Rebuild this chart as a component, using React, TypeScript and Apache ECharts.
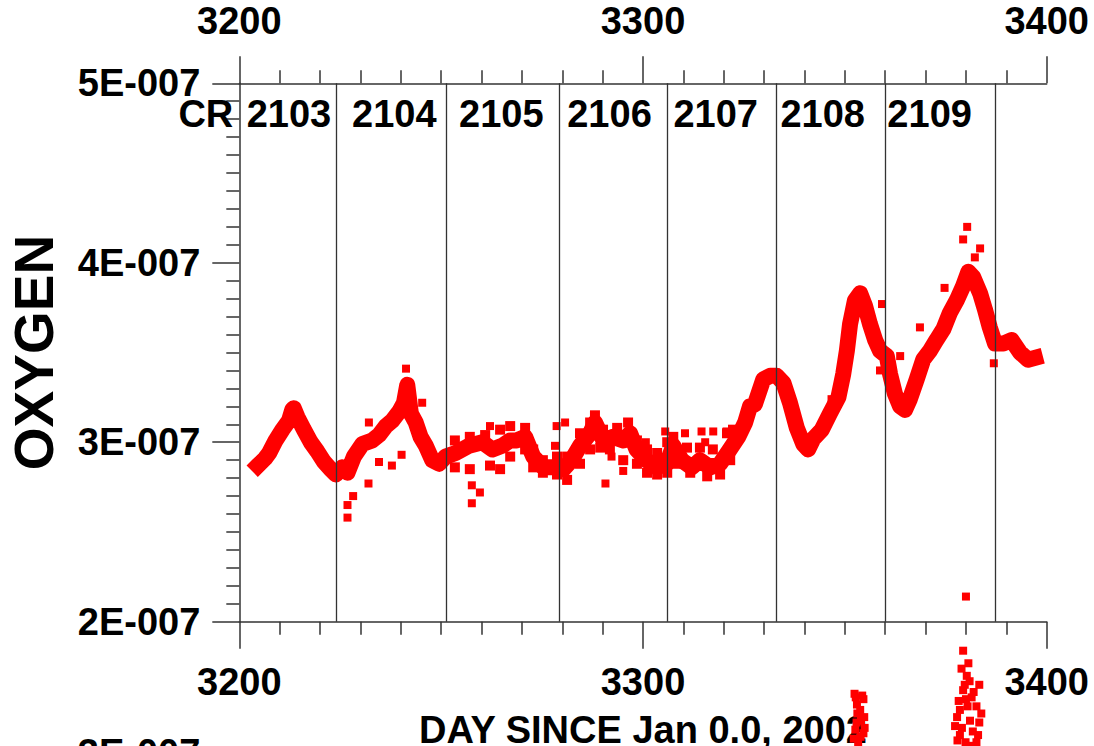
import React, { useEffect, useRef } from "react";
import * as echarts from "echarts";

// ---- data (oxygen in units of 1E-007, time in days since Jan 0.0, 2002) ----

const DAY_MIN = 3200;
const DAY_MAX = 3400;
const DAY_STEP = 100;
const OXY_MIN = 2;
const OXY_MAX = 5;
const OXY_STEP = 1;

// main oxygen trace
const TRACE: [number, number][] = [
  [3204.6, 2.87], [3206.4, 2.91], [3207.4, 2.94], [3209.0, 3.01], [3210.7, 3.07],
  [3212.3, 3.12], [3213.1, 3.18], [3213.5, 3.19], [3214.4, 3.14], [3216.0, 3.07],
  [3217.7, 3.0], [3219.3, 2.95], [3221.0, 2.89], [3222.6, 2.85], [3223.9, 2.82],
  [3225.5, 2.86], [3226.8, 2.83], [3228.4, 2.92], [3230.5, 2.99], [3232.9, 3.01],
  [3234.6, 3.04], [3236.3, 3.09], [3237.9, 3.12], [3239.6, 3.17], [3240.8, 3.22],
  [3241.6, 3.32], [3242.5, 3.16], [3243.7, 3.11], [3244.9, 3.03], [3246.2, 2.98],
  [3247.8, 2.9], [3249.5, 2.88], [3251.1, 2.92], [3253.6, 2.94], [3256.9, 2.98],
  [3260.2, 3.0], [3262.7, 2.96], [3265.1, 2.98], [3267.1, 3.01], [3268.7, 3.01],
  [3270.8, 3.03], [3272.8, 2.92], [3275.3, 2.86], [3277.8, 2.86], [3280.3, 2.85],
  [3282.3, 2.9], [3284.4, 2.98], [3286.9, 3.05], [3288.1, 3.11], [3290.2, 3.01],
  [3292.6, 3.03], [3295.1, 3.01], [3296.8, 3.05], [3298.4, 2.96], [3300.9, 2.9],
  [3303.4, 2.86], [3305.9, 2.88], [3307.5, 2.98], [3309.6, 2.9], [3312.1, 2.86],
  [3314.1, 2.9], [3316.6, 2.86], [3319.1, 2.88], [3321.5, 2.96], [3323.6, 3.03],
  [3325.3, 3.11], [3326.5, 3.2], [3327.7, 3.21], [3329.8, 3.35], [3331.5, 3.37],
  [3333.1, 3.37], [3334.8, 3.33], [3336.4, 3.22], [3338.1, 3.08], [3339.7, 2.99],
  [3340.9, 2.96], [3342.2, 3.02], [3344.3, 3.07], [3346.3, 3.16], [3348.4, 3.25],
  [3349.6, 3.38], [3350.5, 3.51], [3351.3, 3.66], [3352.5, 3.79], [3353.8, 3.83],
  [3355.0, 3.76], [3356.2, 3.66], [3357.5, 3.57], [3358.7, 3.51], [3360.4, 3.48],
  [3361.2, 3.38], [3362.4, 3.27], [3363.7, 3.2], [3364.9, 3.18], [3366.1, 3.24],
  [3367.8, 3.35], [3369.4, 3.46], [3371.1, 3.51], [3372.7, 3.57], [3374.4, 3.63],
  [3376.0, 3.72], [3377.7, 3.79], [3379.3, 3.87], [3380.6, 3.95], [3381.8, 3.92],
  [3383.5, 3.83], [3384.7, 3.74], [3385.9, 3.64], [3387.2, 3.55], [3389.3, 3.55],
  [3391.3, 3.57], [3393.4, 3.5], [3395.4, 3.46], [3397.1, 3.47],
];

// upper and lower edges of the noisy stretch between rotations 2105 and 2107
const SPREAD_UPPER: [number, number][] = [
  [3253.4, 3.01], [3257.1, 3.03], [3260.9, 3.04], [3264.6, 3.07], [3267.1, 3.09],
  [3270.8, 3.08], [3272.8, 2.96], [3275.2, 2.9], [3278.7, 2.92], [3281.2, 2.92],
  [3284.4, 3.05], [3286.9, 3.11], [3288.1, 3.15], [3290.1, 3.07], [3293.6, 3.08],
  [3296.3, 3.11], [3298.5, 3.01], [3301.0, 2.96], [3303.5, 2.94], [3306.0, 3.0],
  [3307.5, 3.03], [3310.9, 2.97], [3314.1, 2.97], [3317.3, 2.96], [3320.8, 3.05],
  [3322.3, 3.07],
];
const SPREAD_LOWER: [number, number][] = [
  [3253.4, 2.86], [3257.1, 2.85], [3262.1, 2.87], [3264.6, 2.85], [3267.1, 2.92],
  [3270.8, 2.96], [3272.8, 2.86], [3275.2, 2.83], [3278.7, 2.82], [3281.2, 2.79],
  [3284.4, 2.88], [3286.9, 2.96], [3289.4, 2.97], [3291.8, 2.96], [3295.1, 2.9],
  [3298.5, 2.88], [3301.0, 2.83], [3303.5, 2.82], [3306.0, 2.83], [3308.5, 2.88],
  [3311.7, 2.83], [3315.9, 2.81], [3319.1, 2.82], [3321.6, 2.9],
];

// isolated samples away from the main trace
const OUTLIERS: [number, number][] = [
  [3226.8, 2.65], [3226.8, 2.58], [3228.2, 2.7], [3232.0, 2.77], [3232.1, 3.11],
  [3234.6, 2.89], [3237.8, 2.87], [3240.2, 2.93], [3241.3, 3.41], [3245.3, 3.22],
  [3257.6, 2.76], [3259.6, 2.72], [3257.6, 2.66], [3262.1, 3.09], [3278.6, 3.09],
  [3280.7, 3.11], [3278.2, 2.98], [3290.7, 2.77], [3295.1, 2.84], [3292.2, 2.92],
  [3300.7, 3.0], [3305.5, 3.06], [3310.4, 3.05], [3314.5, 3.06], [3317.4, 3.06],
  [3320.7, 3.06], [3315.4, 3.0], [3346.7, 3.24], [3359.2, 3.77], [3358.7, 3.4],
  [3363.7, 3.48], [3368.6, 3.64], [3374.7, 3.86], [3380.3, 4.2], [3379.3, 4.13],
  [3383.5, 4.08], [3382.2, 4.03], [3386.9, 3.44], [3380.0, 2.14],
];

// Carrington rotations
const CR_NUMBERS = ["2103", "2104", "2105", "2106", "2107", "2108", "2109"];
const CR_LABEL_DAYS = [3212.3, 3238.4, 3264.9, 3291.7, 3318.0, 3344.5, 3371.0];
const CR_BOUNDARIES = [3224.0, 3251.2, 3279.2, 3306.0, 3333.1, 3360.1, 3387.2];
const CR_LABEL_LEVEL = 4.83;

// next panel down (only its top edge is in view)
const LOWER_MIN = 0;
const LOWER_MAX = 3.6;
const LOWER_TICK = 3;
const LOWER_SPIKES: [number, number][] = [
  [3352.7, 3.31], [3354.6, 3.3], [3353.8, 3.24], [3352.9, 3.17], [3354.6, 3.11],
  [3353.3, 3.05], [3354.0, 3.18], [3353.0, 3.27], [3352.4, 3.33], [3354.3, 3.32],
  [3353.1, 3.22], [3354.8, 3.2], [3352.6, 3.13], [3353.9, 3.09], [3354.9, 3.14],
  [3352.2, 3.08],
  [3379.3, 3.57], [3380.6, 3.5], [3380.2, 3.43], [3383.3, 3.38], [3379.3, 3.35],
  [3381.4, 3.31], [3378.5, 3.24], [3382.6, 3.26], [3377.3, 3.15], [3383.3, 3.17],
  [3378.5, 3.1], [3382.6, 3.06], [3380.0, 3.3], [3381.0, 3.18], [3379.9, 3.06],
  [3378.9, 3.47], [3380.9, 3.4], [3379.7, 3.38], [3381.9, 3.34], [3378.2, 3.29],
  [3380.4, 3.26], [3383.8, 3.22], [3377.8, 3.2], [3381.7, 3.12], [3379.0, 3.14],
  [3383.0, 3.1], [3377.9, 3.07], [3381.2, 3.04],
];

// ---- styling ----
const FONT = '"Liberation Sans", Arial, Helvetica, sans-serif';
const INK = "#333333";
const RED = "#ff0000";
const LABEL = { color: "#000", fontFamily: FONT, fontWeight: "bold" as const, fontSize: 38 };
const AXIS_LINE = { color: INK, width: 1.5 };

const PLOT = { left: 239.3, top: 83.3, width: 807.4, height: 538.4 };
const PX_PER_UNIT = PLOT.height / (OXY_MAX - OXY_MIN);
const LOWER_TOP = 753 - (LOWER_MAX - LOWER_TICK) * PX_PER_UNIT;

function dayAxis(position: "top" | "bottom", margin: number, extra: Record<string, unknown> = {}) {
  return {
    type: "value",
    gridIndex: 0,
    position,
    min: DAY_MIN,
    max: DAY_MAX,
    interval: DAY_STEP,
    axisLine: { show: true, onZero: false, lineStyle: AXIS_LINE },
    axisTick: { show: true, inside: false, length: 27, lineStyle: AXIS_LINE },
    minorTick: { show: true, splitNumber: 10, length: 13, lineStyle: AXIS_LINE },
    splitLine: { show: false },
    minorSplitLine: { show: false },
    axisLabel: {
      ...LABEL,
      margin,
      showMinLabel: true,
      showMaxLabel: true,
      formatter: (v: number) => String(v),
    },
    ...extra,
  };
}

function squares(name: string, data: [number, number][], size: number) {
  return {
    name,
    type: "scatter",
    xAxisIndex: 0,
    yAxisIndex: 0,
    data,
    symbol: "rect",
    symbolSize: size,
    itemStyle: { color: RED, opacity: 1 },
    z: 2,
    silent: true,
  };
}

export default function App() {
  const ref = useRef<HTMLDivElement>(null);

  useEffect(() => {
    if (!ref.current) return;
    const chart = echarts.init(ref.current, undefined, { renderer: "svg" });

    chart.setOption({
      animation: false,
      backgroundColor: "#ffffff",
      grid: [
        { ...PLOT, containLabel: false, outerBoundsMode: "none" },
        {
          left: PLOT.left,
          top: LOWER_TOP,
          width: PLOT.width,
          height: (LOWER_MAX - LOWER_MIN) * PX_PER_UNIT,
          containLabel: false,
          outerBoundsMode: "none",
        },
      ],
      xAxis: [
        dayAxis("bottom", 41, {
          name: "DAY SINCE Jan 0.0, 2002",
          nameLocation: "middle",
          nameGap: 89,
          nameTextStyle: { ...LABEL },
        }),
        dayAxis("top", 43),
        { type: "value", gridIndex: 1, min: DAY_MIN, max: DAY_MAX, show: false },
      ],
      yAxis: [
        {
          type: "value",
          gridIndex: 0,
          position: "left",
          min: OXY_MIN,
          max: OXY_MAX,
          interval: OXY_STEP,
          name: "OXYGEN",
          nameLocation: "middle",
          nameRotate: 90,
          nameGap: 178,
          nameTextStyle: { ...LABEL, fontSize: 55 },
          axisLine: { show: true, onZero: false, lineStyle: AXIS_LINE },
          axisTick: { show: true, inside: false, length: 27, lineStyle: AXIS_LINE },
          minorTick: { show: true, splitNumber: 10, length: 13, lineStyle: AXIS_LINE },
          splitLine: { show: false },
          minorSplitLine: { show: false },
          axisLabel: { ...LABEL, margin: 39, formatter: (v: number) => `${v}E-007` },
        },
        {
          type: "value",
          gridIndex: 1,
          position: "left",
          min: LOWER_MIN,
          max: LOWER_MAX,
          interval: 1,
          axisLine: { show: false },
          axisTick: { show: false },
          splitLine: { show: false },
          axisLabel: {
            ...LABEL,
            margin: 39,
            showMaxLabel: false,
            formatter: (v: number) => (Number.isInteger(v) ? `${v}E-007` : ""),
          },
        },
      ],
      series: [
        {
          name: "oxygen band",
          type: "line",
          xAxisIndex: 0,
          yAxisIndex: 0,
          data: TRACE,
          showSymbol: false,
          lineStyle: { color: RED, width: 16, join: "round", cap: "square" },
          z: 2,
          silent: true,
        },
        squares("oxygen", TRACE, 8),
        squares("oxygen spread high", SPREAD_UPPER, 10),
        squares("oxygen spread low", SPREAD_LOWER, 10),
        squares("oxygen outliers", OUTLIERS, 8),
        {
          name: "carrington",
          type: "scatter",
          xAxisIndex: 0,
          yAxisIndex: 0,
          clip: false,
          symbolSize: 0,
          itemStyle: { opacity: 1 },
          silent: true,
          z: 4,
          data: [
            {
              value: [DAY_MIN, CR_LABEL_LEVEL],
              label: { show: true, position: "left", distance: 6, formatter: "CR", ...LABEL },
            },
            ...CR_NUMBERS.map((n, i) => ({
              value: [CR_LABEL_DAYS[i], CR_LABEL_LEVEL],
              label: { show: true, position: "inside", formatter: n, ...LABEL },
            })),
          ],
          markLine: {
            silent: true,
            symbol: ["none", "none"],
            label: { show: false },
            lineStyle: { color: INK, width: 1.3, type: "solid", opacity: 1 },
            data: CR_BOUNDARIES.map((d) => ({ xAxis: d })),
          },
        },
        {
          name: "lower panel",
          type: "scatter",
          xAxisIndex: 2,
          yAxisIndex: 1,
          clip: false,
          data: LOWER_SPIKES,
          symbol: "rect",
          symbolSize: 8,
          itemStyle: { color: RED, opacity: 1 },
          z: 5,
          silent: true,
        },
      ],
    });

    return () => chart.dispose();
  }, []);

  return (
    <div
      ref={ref}
      style={{ position: "fixed", left: 0, top: 0, width: 1094, height: 746, background: "#fff" }}
    />
  );
}
